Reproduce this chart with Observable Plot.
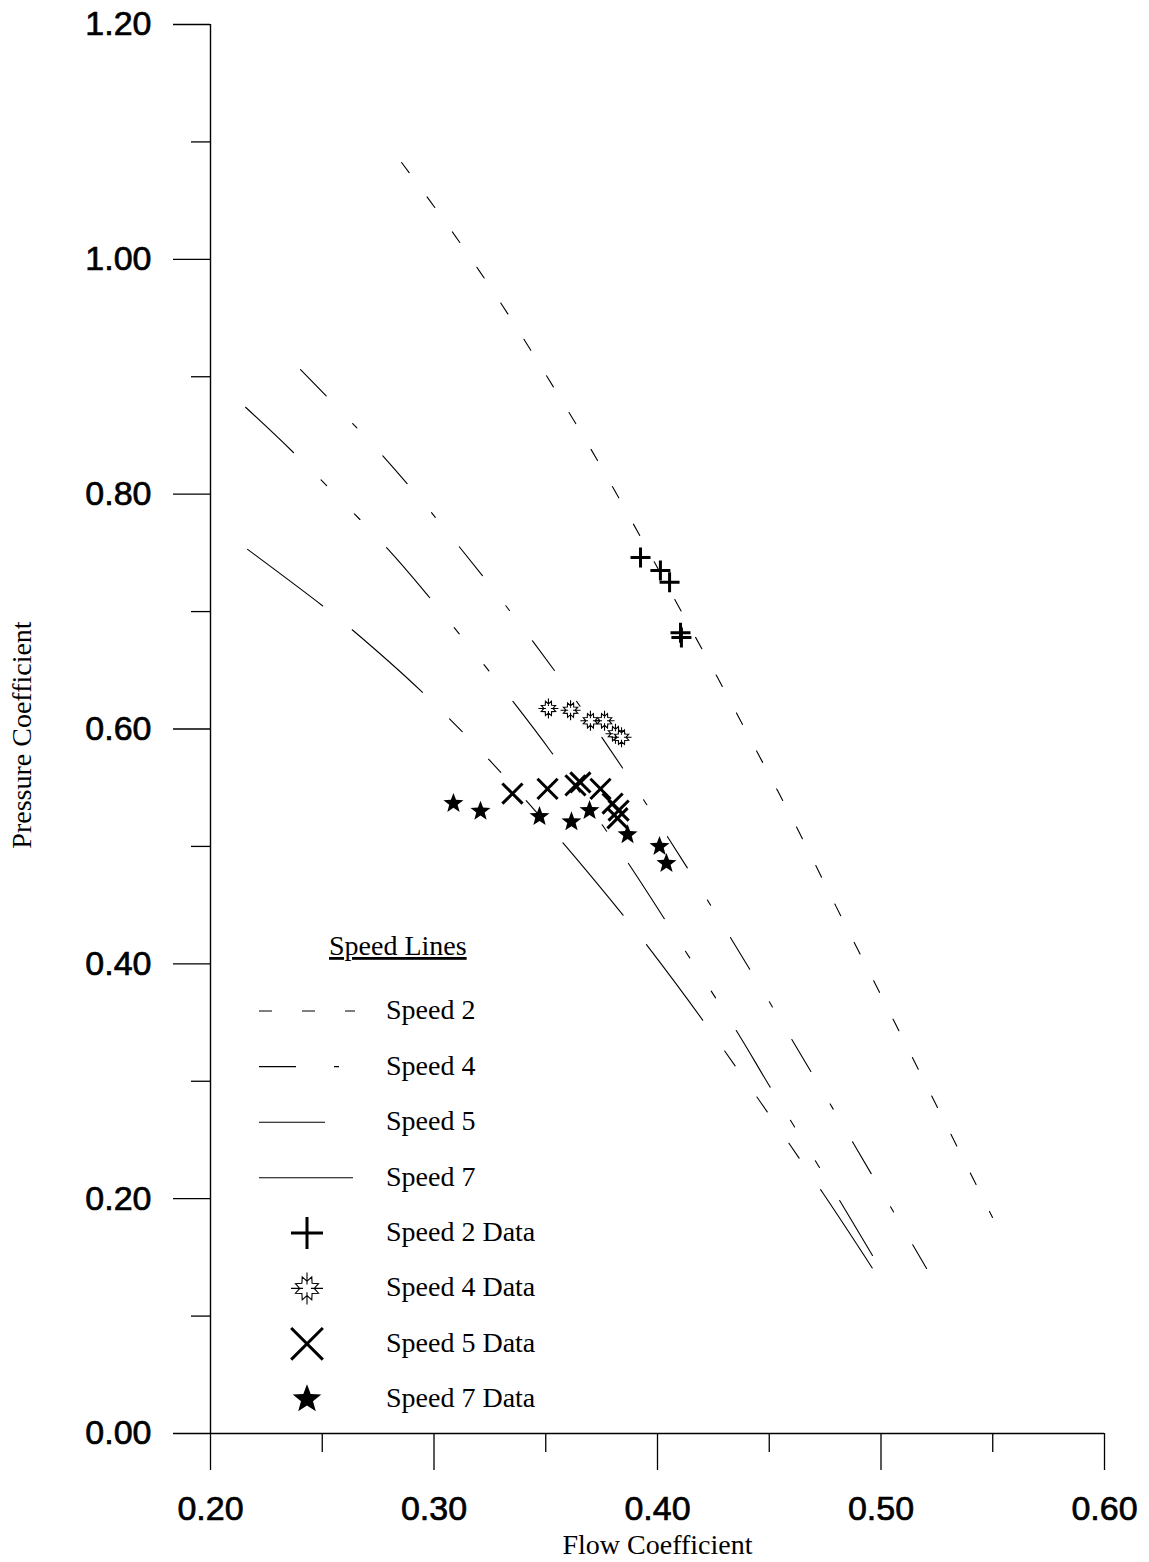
<!DOCTYPE html>
<html><head><meta charset="utf-8">
<script src="https://cdn.jsdelivr.net/npm/d3@7"></script>
<script src="https://cdn.jsdelivr.net/npm/@observablehq/plot@0.6"></script>
<style>
body{margin:0;background:#fff}
#chart{position:relative;width:1149px;height:1562px}
</style>
</head><body><div id="chart"></div>
<script>
// ---- data ----
const xMajorTicks = [0.20, 0.30, 0.40, 0.50, 0.60];
const xMinorTicks = [0.25, 0.35, 0.45, 0.55];
const yMajorTicks = [0.00, 0.20, 0.40, 0.60, 0.80, 1.00, 1.20];
const yMinorTicks = [0.10, 0.30, 0.50, 0.70, 0.90, 1.10];

const speed2Flow  = [0.2855, 0.3078, 0.3298, 0.3503, 0.3700, 0.3888, 0.4081, 0.4268, 0.4447, 0.4626, 0.4796, 0.4966, 0.5141, 0.5311, 0.5499];
const speed2Press = [1.0825, 1.0245, 0.963, 0.901, 0.839, 0.776, 0.709, 0.644, 0.580, 0.515, 0.450, 0.386, 0.320, 0.2555, 0.184];

const speed4Flow  = [0.2403, 0.2774, 0.3114, 0.3445, 0.3754, 0.4049, 0.4331, 0.4609, 0.4877, 0.5204];
const speed4Press = [0.906, 0.832, 0.755, 0.674, 0.592, 0.507, 0.421, 0.333, 0.247, 0.1405];

const speed5Flow  = [0.2157, 0.2371, 0.2787, 0.2980, 0.3351, 0.3526, 0.3870, 0.4027, 0.4353, 0.4501, 0.4810, 0.4962];
const speed5Press = [0.874, 0.8355, 0.7546, 0.712, 0.624, 0.580, 0.4855, 0.4395, 0.343, 0.296, 0.200, 0.1516];

const speed7Flow  = [0.2166, 0.2501, 0.2631, 0.2944, 0.3275, 0.3579, 0.3852, 0.3960, 0.4210, 0.4743, 0.4971];
const speed7Press = [0.753, 0.705, 0.685, 0.632, 0.568, 0.5025, 0.440, 0.414, 0.350, 0.204, 0.138];

const data2Flow  = [0.3924, 0.4013, 0.4054, 0.4103, 0.4107];
const data2Press = [0.746, 0.735, 0.725, 0.682, 0.678];

const data4Flow  = [0.3512, 0.3611, 0.3700, 0.3763, 0.3812, 0.3839];
const data4Press = [0.6175, 0.616, 0.607, 0.607, 0.596, 0.593];

const data5Flow  = [0.3351, 0.3508, 0.3633, 0.3655, 0.3745, 0.3799, 0.3826, 0.3821];
const data5Press = [0.545, 0.549, 0.552, 0.5545, 0.549, 0.5365, 0.5305, 0.524];

const data7Flow  = [0.3087, 0.3208, 0.3472, 0.3615, 0.3696, 0.3866, 0.4009, 0.4040];
const data7Press = [0.5366, 0.530, 0.5255, 0.521, 0.5306, 0.510, 0.500, 0.4855];

const lineNames = ["Speed 2", "Speed 4", "Speed 5", "Speed 7"];
const dataNames = ["Speed 2 Data", "Speed 4 Data", "Speed 5 Data", "Speed 7 Data"];
const legendTitle = "Speed Lines";
const xTitle = "Flow Coefficient";
const yTitle = "Pressure Coefficient";

// ---- styles ----
const dashes = {
  "Speed 2": "13,30",
  "Speed 4": "37,38,6,38",
  "Speed 5": "66,39,8,39,8,39",
  "Speed 7": "94,38,94,38,18,38,18,38,18,38"
};

// custom symbols (R = Plot radius)
const R = size => Math.sqrt(size / Math.PI);
const plusSym = {draw(c, s){const r=R(s); c.moveTo(-r,0); c.lineTo(r,0); c.moveTo(0,-r); c.lineTo(0,r);}};
const timesSym = {draw(c, s){const r=R(s)*0.72; c.moveTo(-r,-r); c.lineTo(r,r); c.moveTo(-r,r); c.lineTo(r,-r);}};
const starSym = {draw(c, s){const r=R(s), ri=r*0.42;
  for(let i=0;i<10;i++){const a=-Math.PI/2+i*Math.PI/5, rr=i%2?ri:r; const x=rr*Math.cos(a), y=rr*Math.sin(a); i?c.lineTo(x,y):c.moveTo(x,y);} c.closePath();}};
const burstSym = {draw(c, s){const r=R(s), ro=r*0.78, ri=r*0.45;
  for(let i=0;i<16;i++){const a=-Math.PI/2+Math.PI/8+i*Math.PI/8, rr=i%2?ri:ro; const x=rr*Math.cos(a), y=rr*Math.sin(a); i?c.lineTo(x,y):c.moveTo(x,y);} c.closePath();
  c.moveTo(0,-r); c.lineTo(0,-ri*0.55); c.moveTo(0,r); c.lineTo(0,ri*0.55);
  c.moveTo(-r,0); c.lineTo(-ri*0.55,0); c.moveTo(r,0); c.lineTo(ri*0.55,0);}};

const zip = (a, b) => a.map((v, i) => ({x: v, y: b[i]}));
const series = [
  [lineNames[0], speed2Flow, speed2Press],
  [lineNames[1], speed4Flow, speed4Press],
  [lineNames[2], speed5Flow, speed5Press],
  [lineNames[3], speed7Flow, speed7Press]
];

const sans = "'Liberation Sans', Arial, sans-serif";
const serif = "'Liberation Serif', 'Times New Roman', serif";

const svgEl = Plot.plot({
  width: 1149, height: 1562,
  marginLeft: 210, marginRight: 45, marginTop: 24, marginBottom: 129,
  x: {domain: [0.2, 0.6]},
  y: {domain: [0, 1.2]},
  style: {background: "white", color: "black", fontFamily: sans},
  marks: [
    ...series.map(([name, fx, py]) => Plot.line(zip(fx, py), {
      x: "x", y: "y", curve: "catmull-rom", stroke: "black", strokeWidth: 1.1,
      strokeDasharray: dashes[name]
    })),
    Plot.ruleX([0.2], {stroke: "black", strokeWidth: 1.4}),
    Plot.ruleY([0], {stroke: "black", strokeWidth: 1.4}),
    Plot.axisY(yMajorTicks, {tickSize: 37, tickPadding: 22, tickFormat: d => d.toFixed(2), fontSize: 34, label: null, strokeWidth: 1.3}),
    Plot.axisY(yMinorTicks, {tickSize: 19, tickFormat: () => "", label: null, strokeWidth: 1.3}),
    Plot.axisX(xMajorTicks, {tickSize: 37, tickPadding: 25, tickFormat: d => d.toFixed(2), fontSize: 34, label: null, strokeWidth: 1.3}),
    Plot.axisX(xMinorTicks, {tickSize: 19, tickFormat: () => "", label: null, strokeWidth: 1.3}),
    Plot.dot(zip(data4Flow, data4Press), {x: "x", y: "y", symbol: burstSym, r: 10, stroke: "black", strokeWidth: 1.1, fill: "white"}),
    Plot.dot(zip(data7Flow, data7Press), {x: "x", y: "y", symbol: starSym, r: 10.5, fill: "black", stroke: "none"}),
    Plot.dot(zip(data5Flow, data5Press), {x: "x", y: "y", symbol: timesSym, r: 14, stroke: "black", strokeWidth: 3, fill: "none"}),
    Plot.dot(zip(data2Flow, data2Press), {x: "x", y: "y", symbol: plusSym, r: 10, stroke: "black", strokeWidth: 3, fill: "none"}),
    Plot.text([xTitle], {frameAnchor: "bottom", dy: 112, fontSize: 28, fontFamily: serif, lineAnchor: "middle", textAnchor: "middle"}),
    Plot.text([yTitle], {frameAnchor: "left", dx: -188, dy: 6, rotate: -90, fontSize: 28, fontFamily: serif, lineAnchor: "middle", textAnchor: "middle"})
  ]
});
document.getElementById("chart").appendChild(svgEl);

// thicken tick labels slightly like the scanned original
d3.select(svgEl).selectAll("g[aria-label$='tick label'] text").attr("stroke", "black").attr("stroke-width", 0.7);

// ---- legend (inside plot area) ----
const svg = d3.select(svgEl);
const lg = svg.append("g").attr("font-family", serif).attr("font-size", 28).attr("fill", "black").attr("text-anchor", "start");
lg.append("text").attr("x", 329).attr("y", 955).attr("text-decoration", "underline").text(legendTitle);
const lineLen = {"Speed 2": 96, "Speed 4": 80, "Speed 5": 67, "Speed 7": 95};
lineNames.forEach((n, i) => {
  const y = 1011 + i * 55.6;
  lg.append("line").attr("x1", 259).attr("x2", 259 + lineLen[n]).attr("y1", y).attr("y2", y)
    .attr("stroke", "black").attr("stroke-width", 1.1).attr("stroke-dasharray", dashes[n]);
  lg.append("text").attr("x", 386).attr("y", y + 8).text(n);
});
const legSyms = [
  {sym: plusSym, r: 16, fill: "none", stroke: "black", sw: 3},
  {sym: burstSym, r: 16, fill: "white", stroke: "black", sw: 1.1},
  {sym: timesSym, r: 22, fill: "none", stroke: "black", sw: 3},
  {sym: starSym, r: 15, fill: "black", stroke: "none", sw: 0}
];
dataNames.forEach((n, i) => {
  const y = 1233 + i * 55.4;
  const s = legSyms[i];
  lg.append("path").attr("transform", `translate(307,${y})`)
    .attr("d", d3.symbol(s.sym, s.r * s.r * Math.PI)())
    .attr("fill", s.fill).attr("stroke", s.stroke).attr("stroke-width", s.sw);
  lg.append("text").attr("x", 386).attr("y", y + 8).text(n);
});
</script>
</body></html>
